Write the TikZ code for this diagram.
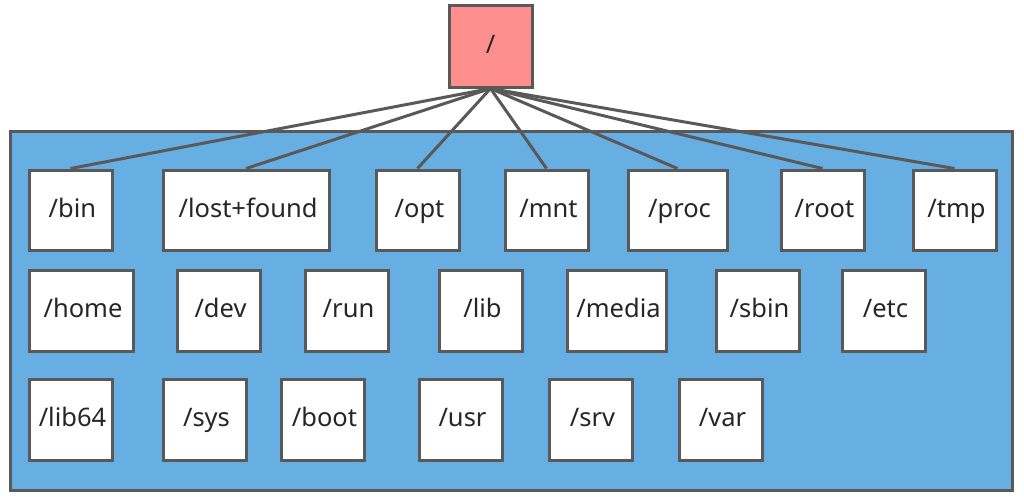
\documentclass[tikz,border=0pt]{standalone}
\usepackage{fontspec}
\setmainfont{Noto Sans}
\definecolor{edgegray}{HTML}{595959}
\definecolor{rootfill}{HTML}{FF8F8F}
\definecolor{panelblue}{HTML}{67AEE3}
\newcommand{\dn}[1]{\hspace*{4pt}#1}
\begin{document}
\begin{tikzpicture}[x=1pt,y=-1pt,
  dirbox/.style={draw=edgegray,line width=3pt,fill=white,inner sep=0pt,minimum height=81pt,font=\fontsize{25.5}{30}\selectfont,text=black!85,text height=19pt,text depth=5pt},
  link/.style={draw=edgegray,line width=3pt}]
\useasboundingbox (0,0) rectangle (1024,496);
\draw[draw=edgegray,line width=3pt,fill=panelblue] (10,131) rectangle (1012,490);
\node[dirbox,fill=rootfill,minimum width=83pt,minimum height=82pt] (root) at (490.5,46) {/};
% row 1
\node[dirbox,minimum width=83pt,minimum height=80pt] (bin) at (70.5,210) {\dn{/bin}};
\node[dirbox,minimum width=166pt,minimum height=80pt] (lost) at (246,210) {\dn{/lost+found}};
\node[dirbox,minimum width=83pt,minimum height=80pt] (opt) at (417.5,210) {\dn{/opt}};
\node[dirbox,minimum width=83pt,minimum height=80pt] (mnt) at (546.5,210) {\dn{/mnt}};
\node[dirbox,minimum width=99pt,minimum height=80pt] (proc) at (677.5,210) {\dn{/proc}};
\node[dirbox,minimum width=83pt,minimum height=80pt] (rootdir) at (822.5,210) {\dn{/root}};
\node[dirbox,minimum width=83pt,minimum height=80pt] (tmp) at (954.5,210) {\dn{/tmp}};
% row 2
\node[dirbox,minimum width=104pt] (home) at (81,310.5) {\dn{/home}};
\node[dirbox,minimum width=83pt] (dev) at (218.5,310.5) {\dn{/dev}};
\node[dirbox,minimum width=83pt] (run) at (346.5,310.5) {\dn{/run}};
\node[dirbox,minimum width=83pt] (lib) at (480.5,310.5) {\dn{/lib}};
\node[dirbox,minimum width=99pt] (media) at (616.5,310.5) {\dn{/media}};
\node[dirbox,minimum width=83pt] (sbin) at (757.5,310.5) {\dn{/sbin}};
\node[dirbox,minimum width=83pt] (etc) at (883.5,310.5) {\dn{/etc}};
% row 3
\node[dirbox,minimum width=83pt] (lib64) at (70.5,419.5) {\dn{/lib64}};
\node[dirbox,minimum width=83pt] (sys) at (204.5,419.5) {\dn{/sys}};
\node[dirbox,minimum width=83pt] (boot) at (322.5,419.5) {\dn{/boot}};
\node[dirbox,minimum width=83pt] (usr) at (460.5,419.5) {\dn{/usr}};
\node[dirbox,minimum width=83pt] (srv) at (590.5,419.5) {\dn{/srv}};
\node[dirbox,minimum width=83pt] (var) at (720.5,419.5) {\dn{/var}};
% connectors
\foreach \t in {bin,lost,opt,mnt,proc,rootdir,tmp}
  \draw[link] (root.south) -- (\t.north);
\end{tikzpicture}
\end{document}
